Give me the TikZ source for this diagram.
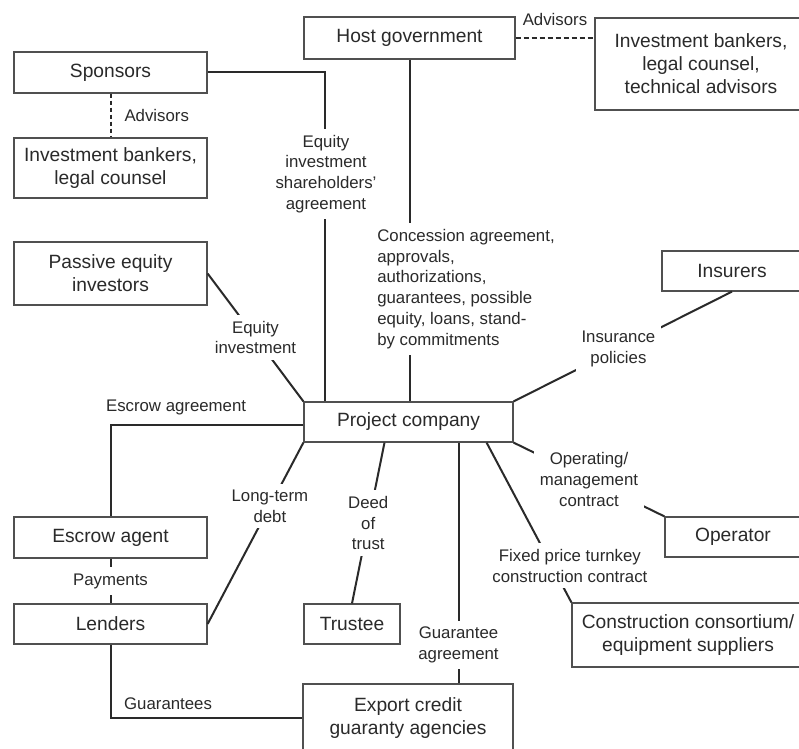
\documentclass[tikz,border=0pt]{standalone}
\usepackage{xcolor}
\usepackage{fontspec}
\setsansfont{Liberation Sans}
\usepackage{tikz}
\definecolor{pfInk}{HTML}{2A2A2A}
\definecolor{pfEdge}{HTML}{505050}

\begin{document}
\begin{tikzpicture}[
    x=0.5pt, y=-0.5pt,
    font=\sffamily,
    party/.style={draw=pfEdge, line width=0.6pt, fill=white, text=pfInk,
                  inner sep=2pt, align=center,
                  font=\sffamily\fontsize{9.6}{11.5}\selectfont},
    lbl/.style={text=pfInk, inner sep=1.5pt, align=center,
                font=\sffamily\fontsize{8.4}{10.4}\selectfont},
    cut/.style={lbl, fill=white, inner sep=3pt},
    link/.style={draw=pfInk, line width=1pt},
  ]
  \fill[white] (0,0) rectangle (799,749);
  \useasboundingbox (0,0) rectangle (799,749);
  % parties, left column
  \node[party, minimum width=96.5pt, minimum height=20.5pt] (spons)   at (110.5,72.5)  {Sponsors};
  \node[party, minimum width=96.5pt, minimum height=30pt]   (sadv)    at (110.5,168)   {Investment bankers,\\legal counsel};
  \node[party, minimum width=96.5pt, minimum height=31.5pt] (passive) at (110.5,273.5) {Passive equity\\investors};
  \node[party, minimum width=96.5pt, minimum height=20.5pt] (escrow)  at (110.5,537.5) {Escrow agent};
  \node[party, minimum width=96.5pt, minimum height=20pt]   (lend)    at (110.5,624)   {Lenders};
  % parties, middle
  \node[party, minimum width=105.5pt, minimum height=21pt]  (host)    at (409.5,38)    {Host government};
  \node[party, minimum width=104.5pt, minimum height=20pt]  (proj)    at (408.5,422)   {Project company};
  \node[party, minimum width=48pt, minimum height=20pt]     (trust)   at (352,624)     {Trustee};
  \node[party, minimum width=105pt, minimum height=34pt]    (eca)     at (408,718)     {Export credit\\guaranty agencies};
  % parties, right column
  \node[party, minimum width=106pt, minimum height=46pt]    (hadv)    at (701,64)      {Investment bankers,\\legal counsel,\\technical advisors};
  \node[party, minimum width=70pt, minimum height=20pt]     (insur)   at (732,271)     {Insurers};
  \node[party, minimum width=68pt, minimum height=20pt]     (oper)    at (733,537)     {Operator};
  \node[party, minimum width=116pt, minimum height=32pt]    (cons)    at (688,635)     {Construction consortium/\\equipment suppliers};
  % advisors
  \draw[link, dash pattern=on 2pt off 1.5pt] (spons.south) -- (sadv.north)
        node[lbl, midway, right=5pt] {Advisors};
  \draw[link, dash pattern=on 2.5pt off 1.5pt] (host.east) -- (host.east -| hadv.west)
        node[lbl, midway, above=4pt] {Advisors};
  % links into the project company
  \draw[link] (spons.east) -| ([xshift=11pt]proj.north west);
  \node[cut] (eqsh) at (326,174) {Equity\\investment\\shareholders'\\agreement};
  \draw[link] (host.south) -- (host.south |- proj.north);
  \node[cut, align=left] (conc) at (466,289)
        {Concession agreement,\\approvals,\\authorizations,\\guarantees, possible\\equity, loans, stand-\\by commitments};
  \draw[link] (passive.east) -- (proj.north west) node[cut, midway] {Equity\\investment};
  \draw[link] ([yshift=-1.5pt]proj.west) -| (escrow.north)
        node[lbl, pos=0.33, above=3pt] {Escrow agreement};
  \draw[link] (proj.south west) -- (lend.east) node[cut, pos=0.35] {Long-term\\debt};
  \draw[link] ([xshift=-12pt]proj.south) -- (trust.north) node[cut, midway] {Deed\\of\\trust};
  \draw[link] ([xshift=25pt]proj.south) -- ([xshift=25pt]proj.south |- eca.north)
        node[cut, pos=0.84] {Guarantee\\agreement};
  \draw[link] (proj.north east) -- (insur.south) node[cut, pos=0.48] {Insurance\\policies};
  \draw[link] (proj.south east) -- (oper.north west) node[cut, midway] {Operating/\\management\\contract};
  \draw[link] ([xshift=-13.5pt]proj.south east) -- (cons.north west)
        node[cut, pos=0.77, xshift=9pt] {Fixed price turnkey\\construction contract};
  % lenders side
  \draw[link] (escrow.south) -- (lend.north) node[cut, midway] {Payments};
  \draw[link] (lend.south) |- (eca.west) node[lbl, pos=0.65, above=2pt] {Guarantees};
\end{tikzpicture}
\end{document}
